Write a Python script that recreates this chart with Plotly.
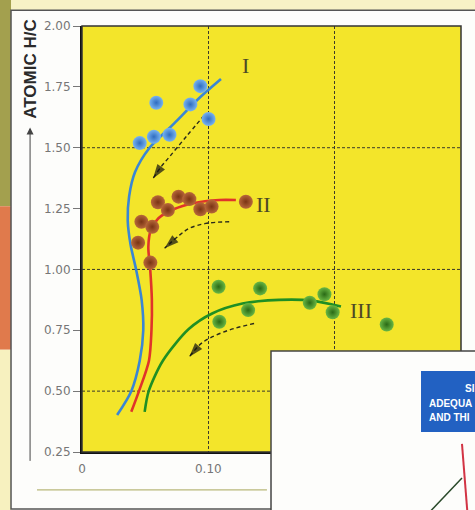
import plotly.graph_objects as go

# ---------------- data ----------------
# Type I kerogen (blue)
I_PTS_X = [0.0457, 0.0569, 0.0693, 0.0588, 0.0858, 0.0937, 0.1002]
I_PTS_Y = [1.519, 1.545, 1.553, 1.685, 1.678, 1.753, 1.618]
I_CURVE_X = [0.0278, 0.0390, 0.0457, 0.0485, 0.0472, 0.0428, 0.0385, 0.0362, 0.0373, 0.0420, 0.0535, 0.0730, 0.0920, 0.1100]
I_CURVE_Y = [0.402, 0.500, 0.625, 0.750, 0.875, 1.000, 1.100, 1.200, 1.300, 1.400, 1.500, 1.600, 1.700, 1.782]

# Type II kerogen (red / brown)
II_PTS_X = [0.0470, 0.0556, 0.0601, 0.0680, 0.0764, 0.0850, 0.0937, 0.1026, 0.0444, 0.0541, 0.1297]
II_PTS_Y = [1.196, 1.175, 1.276, 1.244, 1.299, 1.289, 1.247, 1.258, 1.110, 1.028, 1.278]
II_CURVE_X = [0.0390, 0.0451, 0.0530, 0.0550, 0.0553, 0.0540, 0.0525, 0.0545, 0.0605, 0.0725, 0.0880, 0.1087, 0.1218]
II_CURVE_Y = [0.415, 0.500, 0.625, 0.750, 0.875, 1.000, 1.093, 1.162, 1.210, 1.247, 1.272, 1.285, 1.285]

# Type III kerogen (green)
III_PTS_X = [0.1081, 0.1410, 0.1087, 0.1315, 0.1803, 0.1919, 0.1984, 0.2412]
III_PTS_Y = [0.929, 0.922, 0.785, 0.833, 0.863, 0.898, 0.824, 0.774]
III_CURVE_X = [0.0496, 0.0528, 0.0640, 0.0845, 0.1034, 0.1270, 0.1560, 0.1820, 0.2050]
III_CURVE_Y = [0.415, 0.500, 0.625, 0.755, 0.820, 0.860, 0.875, 0.872, 0.848]

# dashed evolution arrows
ARROW1_X = [0.0969, 0.0824, 0.0693, 0.0627, 0.0562]
ARROW1_Y = [1.634, 1.545, 1.463, 1.422, 1.374]
ARROW2_X = [0.1165, 0.0980, 0.0850, 0.0772, 0.0654]
ARROW2_Y = [1.196, 1.189, 1.169, 1.141, 1.087]
ARROW3_X = [0.1362, 0.1165, 0.1008, 0.0929, 0.0850]
ARROW3_Y = [0.778, 0.751, 0.717, 0.689, 0.641]

# curve labels
LABELS = ["I", "II", "III"]
LABEL_X = [0.1297, 0.1436, 0.2207]
LABEL_Y = [1.836, 1.265, 0.833]

# axes
X_RANGE = [0, 0.30]
Y_RANGE = [0.25, 2.00]
X_TICKS = [0, 0.10, 0.20]
X_TICKTEXT = ["0", "0.10", "0.20"]
Y_TICKS = [0.25, 0.50, 0.75, 1.00, 1.25, 1.50, 1.75, 2.00]
Y_TICKTEXT = ["0.25", "0.50", "0.75", "1.00", "1.25", "1.50", "1.75", "2.00"]
Y_GRID = [0.50, 1.00, 1.50]
Y_TITLE = "ATOMIC H/C"

# inset (partially visible second figure)
INSET_LINES = ["SI", "ADEQUA", "AND THI"]

# ---------------- figure ----------------
fig = go.Figure()

def curve(xs, ys, color):
    fig.add_trace(go.Scatter(x=xs, y=ys, mode="lines",
                             line=dict(color=color, width=2.6, shape="spline", smoothing=0.8),
                             hoverinfo="skip", showlegend=False))

def balls(xs, ys, c_in, c_out):
    fig.add_trace(go.Scatter(x=xs, y=ys, mode="markers",
                             marker=dict(size=14, color=c_in,
                                         gradient=dict(type="radial", color=c_out),
                                         line=dict(width=0)),
                             showlegend=False))

def dashed_arrow(xs, ys):
    sizes = [0] * (len(xs) - 1) + [15]
    fig.add_trace(go.Scatter(x=xs, y=ys, mode="lines+markers",
                             line=dict(color="#2a2a1a", width=1.4, dash="4px,3px", shape="spline"),
                             marker=dict(symbol="arrow", size=sizes, angleref="previous",
                                         color="#111111", line=dict(width=0)),
                             hoverinfo="skip", showlegend=False))

curve(I_CURVE_X, I_CURVE_Y, "#3a86d4")
curve(II_CURVE_X, II_CURVE_Y, "#e0342a")
curve(III_CURVE_X, III_CURVE_Y, "#1f8f24")

dashed_arrow(ARROW1_X, ARROW1_Y)
dashed_arrow(ARROW2_X, ARROW2_Y)
dashed_arrow(ARROW3_X, ARROW3_Y)

balls(I_PTS_X, I_PTS_Y, "#78b4f0", "#2f6cc0")
balls(II_PTS_X, II_PTS_Y, "#b8683a", "#7a3414")
balls(III_PTS_X, III_PTS_Y, "#6ab844", "#2a6a16")

annotations = []
for t, x, y in zip(LABELS, LABEL_X, LABEL_Y):
    annotations.append(dict(x=x, y=y, xref="x", yref="y", text=t, showarrow=False,
                            font=dict(family="Liberation Serif", size=22, color="#4d4a26")))

# y axis title with upward arrow
annotations.append(dict(x=-0.138, y=0.899, xref="paper", yref="paper", text="<b>" + Y_TITLE + "</b>",
                        textangle=-90, showarrow=False, xanchor="center", yanchor="middle",
                        font=dict(family="Liberation Sans", size=17, color="#2a2a2a")))
annotations.append(dict(x=-0.137, y=0.762, xref="paper", yref="paper", text="",
                        showarrow=True, ax=0, ay=335, arrowhead=2, arrowsize=1.4,
                        arrowwidth=1, arrowcolor="#444444", standoff=0))

# inset text
annotations.append(dict(x=1.005, y=0.150, xref="paper", yref="paper", text="<b>" + INSET_LINES[0] + "</b>",
                        xanchor="left", yanchor="middle", showarrow=False,
                        font=dict(family="Liberation Sans", size=10, color="white")))
annotations.append(dict(x=0.910, y=0.115, xref="paper", yref="paper", text="<b>" + INSET_LINES[1] + "</b>",
                        xanchor="left", yanchor="middle", showarrow=False,
                        font=dict(family="Liberation Sans", size=10, color="white")))
annotations.append(dict(x=0.910, y=0.082, xref="paper", yref="paper", text="<b>" + INSET_LINES[2] + "</b>",
                        xanchor="left", yanchor="middle", showarrow=False,
                        font=dict(family="Liberation Sans", size=10, color="white")))

shapes = []
# background strips outside the frame (scanned page)
shapes.append(dict(type="rect", xref="paper", yref="paper", x0=-0.25, x1=1.1, y0=1.037, y1=1.07,
                   fillcolor="#f7f2c6", line=dict(width=0), layer="below"))
shapes.append(dict(type="rect", xref="paper", yref="paper", x0=-0.25, x1=-0.1873, y0=0.577, y1=1.07,
                   fillcolor="#a3a04e", line=dict(width=0), layer="below"))
shapes.append(dict(type="rect", xref="paper", yref="paper", x0=-0.25, x1=-0.1873, y0=0.240, y1=0.577,
                   fillcolor="#e07a4c", line=dict(width=0), layer="below"))
shapes.append(dict(type="rect", xref="paper", yref="paper", x0=-0.25, x1=-0.1873, y0=-0.2, y1=0.240,
                   fillcolor="#f7f1bf", line=dict(width=0), layer="below"))
# outer frame
shapes.append(dict(type="rect", xref="paper", yref="paper", x0=-0.1873, x1=1.08, y0=-0.134, y1=1.037,
                   line=dict(color="#555555", width=1.5), layer="below"))
# thin line under x labels
shapes.append(dict(type="line", xref="paper", yref="paper", x0=-0.1187, x1=0.488, y0=-0.089, y1=-0.089,
                   line=dict(color="#a8a65a", width=1), layer="below"))
# horizontal grid lines
for g in Y_GRID:
    shapes.append(dict(type="line", xref="x", yref="y", x0=X_RANGE[0], x1=X_RANGE[1], y0=g, y1=g,
                       line=dict(color="#3a3a2a", width=1, dash="3px,2px"), layer="below"))
# plot border (top/right)
shapes.append(dict(type="rect", xref="paper", yref="paper", x0=0, x1=1, y0=0, y1=1,
                   line=dict(color="#333333", width=1.5), layer="above"))
# inset panel
shapes.append(dict(type="rect", xref="paper", yref="paper", x0=0.4987, x1=1.06, y0=-0.16, y1=0.237,
                   fillcolor="#fdfdfb", line=dict(color="#444444", width=1.5), layer="above"))
shapes.append(dict(type="rect", xref="paper", yref="paper", x0=0.8945, x1=1.06, y0=0.047, y1=0.190,
                   fillcolor="#2261c2", line=dict(width=0), layer="above"))
shapes.append(dict(type="line", xref="paper", yref="paper", x0=1.0026, x1=1.0185, y0=0.019, y1=-0.16,
                   line=dict(color="#d23444", width=2), layer="above"))
shapes.append(dict(type="line", xref="paper", yref="paper", x0=1.0026, x1=0.897, y0=-0.061, y1=-0.16,
                   line=dict(color="#2a4a2a", width=1.5), layer="above"))

fig.update_layout(
    width=475, height=510,
    margin=dict(l=82, r=14, t=26, b=58),
    paper_bgcolor="#fdfdfb",
    plot_bgcolor="#f3e52a",
    showlegend=False,
    annotations=annotations,
    shapes=shapes,
    xaxis=dict(range=X_RANGE, tickvals=X_TICKS, ticktext=X_TICKTEXT, showgrid=True,
               gridcolor="#3a3a2a", griddash="3px,2px", gridwidth=1,
               zeroline=False, showline=True, linecolor="#111111", linewidth=2,
               ticks="", ticklabelstandoff=5,
               tickfont=dict(family="DejaVu Sans", size=12, color="#767676")),
    yaxis=dict(range=Y_RANGE, tickvals=Y_TICKS, ticktext=Y_TICKTEXT, showgrid=False,
               zeroline=False, showline=True, linecolor="#111111", linewidth=2,
               ticks="outside", ticklen=7, tickcolor="#777777", tickwidth=1,
               tickfont=dict(family="DejaVu Sans", size=12, color="#767676")),
)

fig.write_html("out.html")
